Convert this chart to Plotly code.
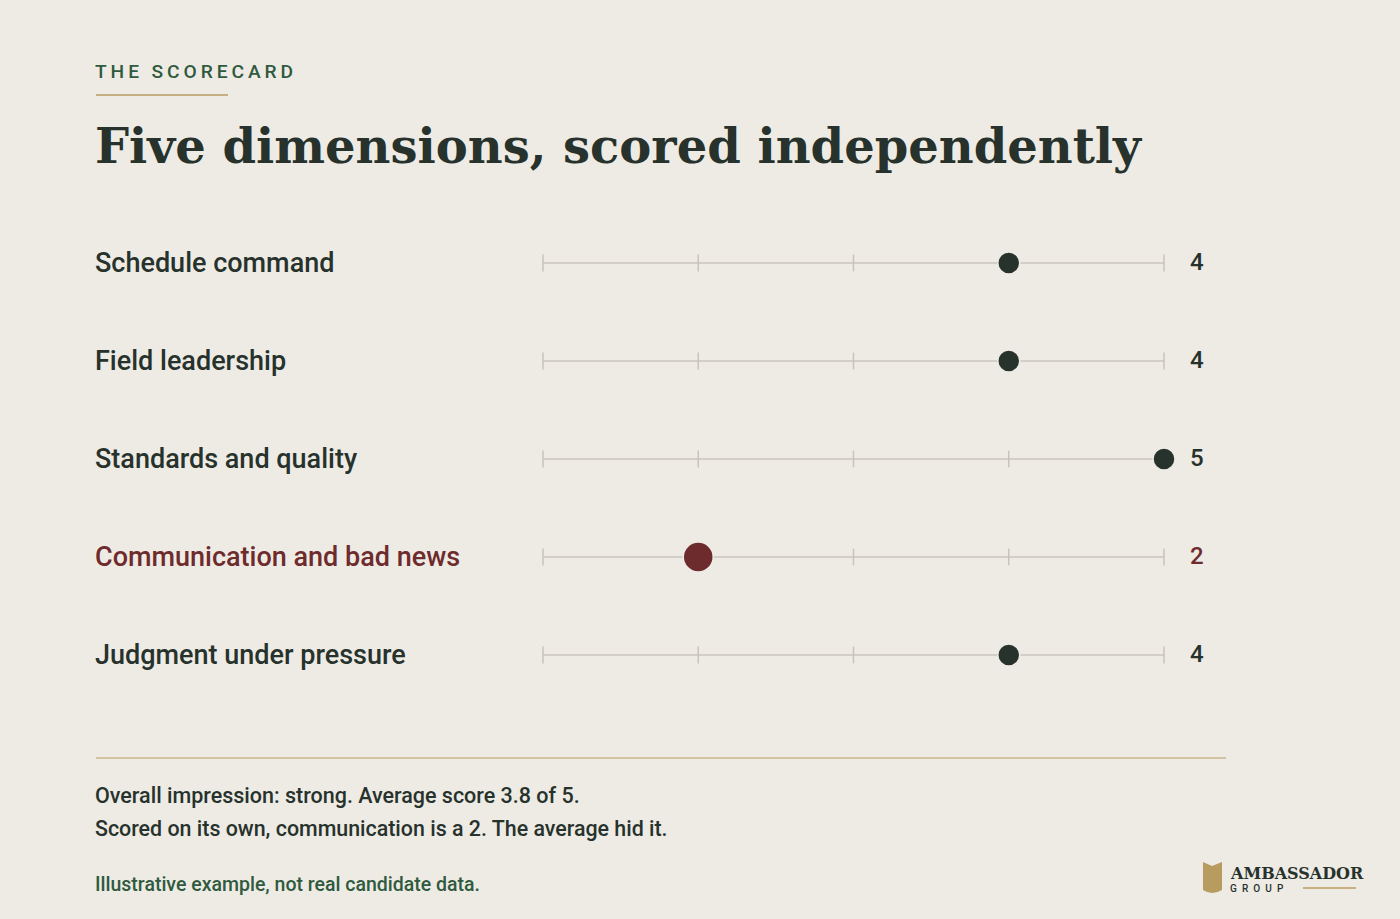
import plotly.graph_objects as go

# ---- data ----
dimensions = ["Schedule command", "Field leadership", "Standards and quality",
              "Communication and bad news", "Judgment under pressure"]
scores = [4, 4, 5, 2, 4]
flagged = [False, False, False, True, False]
scale_ticks = [1, 2, 3, 4, 5]

kicker = "THE SCORECARD"
title = "Five dimensions, scored independently"
note1 = "Overall impression: strong. Average score 3.8 of 5."
note2 = "Scored on its own, communication is a 2. The average hid it."
source = "Illustrative example, not real candidate data."

# ---- styles ----
BG = "#EEEBE5"
DARK = "#27322C"
RED = "#6E2B2D"
GREEN = "#2F5A3E"
GOLD = "#B89B5E"
TRACK = "#D3CFC6"
TICK = "#C9C4BA"
W, H = 1400, 919
SANS = "Roboto, 'Liberation Sans', sans-serif"
SERIF = "'DejaVu Serif', 'Liberation Serif', serif"

fig = go.Figure()

rows = list(range(len(dimensions)))

# tracks
for r in rows:
    fig.add_trace(go.Scatter(
        x=[scale_ticks[0], scale_ticks[-1]], y=[r, r], mode="lines",
        line=dict(color=TRACK, width=2), hoverinfo="skip", showlegend=False))
    fig.add_trace(go.Scatter(
        x=scale_ticks, y=[r] * len(scale_ticks), mode="markers",
        marker=dict(symbol="line-ns", size=12, line=dict(color=TICK, width=1.5)),
        hoverinfo="skip", showlegend=False))

# dots
for r, s, f in zip(rows, scores, flagged):
    fig.add_trace(go.Scatter(
        x=[s], y=[r], mode="markers",
        marker=dict(size=30 if f else 22, color=RED if f else DARK,
                    line=dict(color=BG, width=1.5)),
        showlegend=False, cliponaxis=False))

annotations = []
for r, (d, s, f) in enumerate(zip(dimensions, scores, flagged)):
    col = RED if f else DARK
    annotations.append(dict(x=94 / W, xref="paper", y=r, yref="y", text=d,
                            showarrow=False, xanchor="left", yanchor="middle", borderpad=0,
                            font=dict(family=SANS, size=27, color=col, weight=500)))
    annotations.append(dict(x=scale_ticks[-1], xref="x", y=r, yref="y", text=str(s),
                            showarrow=False, xanchor="center", yanchor="middle",
                            xshift=33, yshift=1,
                            font=dict(family=SANS, size=24, color=col, weight=500)))

def ptext(x, y, text, size, color, family=SANS, weight=400, anchor="left"):
    annotations.append(dict(x=x / W, y=1 - y / H, xref="paper", yref="paper", text=text,
                            showarrow=False, xanchor=anchor, yanchor="middle", borderpad=0,
                            font=dict(family=family, size=size, color=color, weight=weight)))

spaced = "\u2009".join(list(kicker.replace(" ", "\u00a0")))
ptext(94, 72, spaced, 19.2, GREEN, weight=500)
ptext(94, 146, title, 48, DARK, family=SERIF, weight=700)
ptext(94, 795, note1, 21.5, DARK, weight=500)
ptext(94, 828, note2, 21.4, DARK, weight=500)
ptext(94, 884, source, 19.5, GREEN, weight=500)
ptext(1229, 873, "AMBASSADOR", 16, DARK, family=SERIF, weight=700)
ptext(1229, 888, "\u2002".join(list("GROUP")), 10, DARK, weight=500)

shapes = [
    dict(type="line", xref="paper", yref="paper", x0=96 / W, x1=228 / W,
         y0=1 - 95 / H, y1=1 - 95 / H, line=dict(color=GOLD, width=1.5)),
    dict(type="line", xref="paper", yref="paper", x0=96 / W, x1=1226 / W,
         y0=1 - 758 / H, y1=1 - 758 / H, line=dict(color=GOLD, width=1)),
    dict(type="line", xref="paper", yref="paper", x0=1303 / W, x1=1356 / W,
         y0=1 - 888 / H, y1=1 - 888 / H, line=dict(color=GOLD, width=1.5)),
    # simple owl mark
    dict(type="path", xref="paper", yref="paper",
         path=("M {a},{b} L {c},{d} L {e},{b} L {e},{f} Q {g},{h} {a},{f} Z").format(
             a=1203 / W, b=1 - 862 / H, c=1212 / W, d=1 - 866 / H, e=1222 / W,
             f=1 - 890 / H, g=1212 / W, h=1 - 896 / H),
         fillcolor=GOLD, line=dict(width=0)),
]

px_per = 155.25
fig.update_layout(
    width=W, height=H, paper_bgcolor=BG, plot_bgcolor=BG,
    margin=dict(l=0, r=0, t=0, b=0),
    xaxis=dict(domain=[(543 - 0.5 * px_per) / W, (1164 + 0.5 * px_per) / W],
               range=[0.5, 5.5], visible=False, fixedrange=True),
    yaxis=dict(domain=[0, 1], range=[4 + (H - 655) / 98, -263 / 98],
               visible=False, fixedrange=True),
    annotations=annotations, shapes=shapes, showlegend=False,
)

fig.write_html("out.html")
